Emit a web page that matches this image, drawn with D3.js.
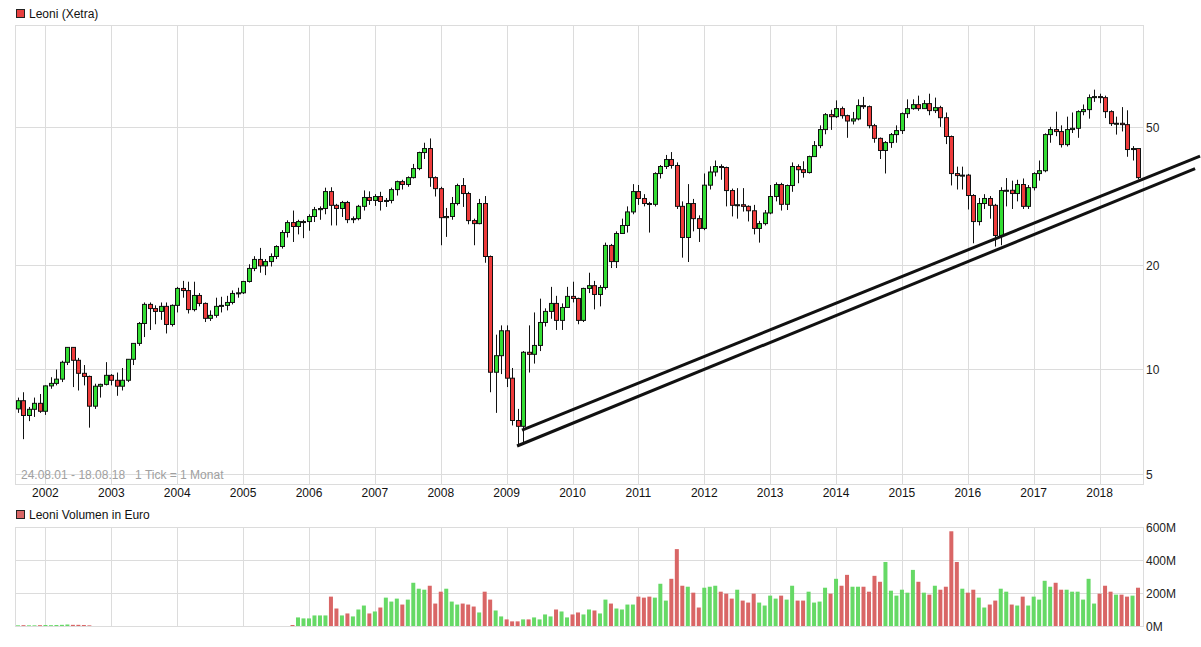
<!DOCTYPE html>
<html><head><meta charset="utf-8">
<script src="https://cdn.jsdelivr.net/npm/d3@7"></script>
<style>body{margin:0;background:#fff}svg{display:block;font-family:"Liberation Sans",Arial,sans-serif}</style>
</head><body><svg id="c" width="1201" height="647"></svg>
<script>
const startLabel = "24.08.01 - 18.08.18   1 Tick = 1 Monat";
const years = [2002,2003,2004,2005,2006,2007,2008,2009,2010,2011,2012,2013,2014,2015,2016,2017,2018];
const priceTicks = [5,10,20,50];
const volTicks = [0,200,400,600];
const firstOpen = 7.70;
const closes = [8.13,7.37,7.68,7.99,7.58,8.97,9.12,9.38,10.49,11.58,10.63,9.75,9.55,7.84,8.95,9.06,9.62,9.31,8.95,9.31,
10.70,11.89,13.57,15.40,14.98,14.70,15.20,13.48,15.30,17.12,16.88,14.88,16.34,15.50,14.04,14.32,15.20,15.30,15.60,16.56,
16.63,17.93,19.55,20.75,19.89,20.46,21.16,22.61,24.81,26.50,25.82,26.68,26.68,27.59,28.87,29.09,32.55,29.71,29.09,30.28,
27.02,27.20,29.51,31.30,30.69,31.50,30.48,30.69,32.98,34.77,34.11,35.71,37.92,42.17,43.30,35.71,33.19,27.38,27.59,30.07,
33.88,32.13,26.85,26.32,30.07,21.16,9.82,10.96,12.93,9.44,7.13,6.86,11.21,11.06,11.73,13.66,14.70,15.50,13.85,15.09,
16.24,16.02,13.85,17.12,17.44,16.45,17.23,22.77,20.46,24.65,25.99,28.44,32.55,31.09,30.07,29.91,36.68,38.44,40.26,38.70,
29.51,24.00,30.07,27.20,25.49,33.96,37.06,38.44,38.18,32.77,29.71,29.83,29.51,28.66,25.49,26.32,28.24,31.50,34.11,29.91,
33.88,38.44,37.63,36.93,41.06,44.16,49.11,54.22,53.50,56.43,53.86,51.98,52.70,57.56,57.18,50.40,46.32,42.74,45.05,47.50,
48.78,54.59,56.43,57.94,56.43,58.33,55.69,56.80,53.14,46.90,36.68,36.19,36.30,31.71,26.68,30.07,31.09,29.71,24.32,32.77,
32.83,32.13,34.11,29.51,33.41,36.68,37.38,47.50,49.11,48.46,44.45,49.11,49.53,55.32,56.06,60.70,61.12,60.70,55.32,51.09,
51.20,50.75,43.02,43.30,35.71];
const highs = [8.3,8.6,7.8,8.3,8.5,9.0,9.5,10.0,10.6,11.6,11.6,10.8,10.3,9.6,9.1,9.1,10.5,9.7,9.8,10.1,
10.7,11.9,13.7,15.6,15.6,15.3,15.6,15.6,15.4,17.3,18.0,17.9,17.9,16.6,15.6,14.8,16.1,16.2,16.3,16.9,
17.2,18.0,20.1,21.2,22.4,20.8,21.6,22.8,25.2,26.9,28.7,27.0,27.0,28.0,29.4,29.5,33.4,33.5,30.0,30.6,
30.6,27.6,29.8,32.8,32.6,32.0,32.5,31.2,33.4,35.0,35.2,36.0,39.1,42.4,45.0,46.3,36.0,33.6,29.2,31.4,
34.3,35.6,32.5,27.2,31.0,31.6,21.3,12.6,13.4,13.4,10.1,7.7,11.3,13.4,14.6,16.0,15.0,17.3,16.3,15.5,
17.3,17.9,16.1,17.2,19.0,18.0,17.5,23.2,23.0,25.0,27.2,29.5,34.2,34.0,32.0,30.4,37.0,38.8,41.5,42.3,
39.5,30.5,34.2,31.0,27.8,36.7,38.5,40.0,39.0,38.4,33.2,33.3,33.3,29.7,29.8,26.8,28.8,34.0,34.6,34.5,
34.1,39.5,39.0,39.8,41.3,45.5,50.5,54.8,56.0,59.6,57.2,54.2,55.2,60.0,61.0,57.6,51.0,46.6,45.5,48.0,
50.5,55.0,60.0,60.0,61.5,59.7,62.3,60.7,57.5,55.0,47.2,38.4,38.4,36.6,32.0,31.2,32.0,31.6,30.0,33.5,
35.6,35.0,35.2,35.5,34.0,37.0,40.0,47.9,50.0,55.3,50.5,53.5,55.0,55.8,58.0,62.0,64.0,62.3,61.5,55.8,
53.5,57.0,55.8,44.0,43.0];
const lows = [7.5,6.3,7.1,7.3,7.5,7.4,8.8,9.0,9.2,10.3,8.9,8.7,9.0,6.8,7.7,8.3,9.0,9.0,8.4,8.7,
9.2,10.3,11.7,12.4,13.0,13.5,13.9,12.7,13.3,14.6,16.1,14.5,14.7,15.2,13.7,13.8,14.1,14.6,14.8,15.4,
16.1,16.5,17.8,19.2,19.0,18.7,19.8,20.8,22.3,24.0,23.3,24.5,23.9,25.1,26.6,27.0,28.0,26.0,26.0,27.5,
26.4,26.4,26.9,28.7,29.8,29.6,28.7,29.4,30.1,31.7,33.0,33.6,35.5,37.5,40.4,33.6,31.5,22.8,24.1,27.0,
29.7,29.4,26.2,22.8,26.2,20.3,8.6,7.5,9.7,8.9,6.9,6.1,6.1,9.8,10.4,11.3,13.3,14.0,13.0,13.0,
15.7,15.6,13.5,13.7,16.6,14.9,15.2,17.0,19.6,19.6,24.7,24.8,28.0,29.8,29.5,24.8,29.5,35.5,37.8,37.9,
29.0,21.0,20.4,25.0,23.3,25.2,33.0,36.0,35.2,29.5,27.6,27.2,28.5,26.7,24.5,23.2,26.0,28.0,30.5,28.7,
28.8,32.5,34.4,35.7,36.7,43.4,43.4,47.6,49.0,53.0,52.8,46.5,50.8,52.2,56.3,49.5,45.0,40.4,36.7,43.5,
45.0,47.7,53.0,56.0,55.6,56.5,54.0,54.8,50.0,44.6,33.9,33.0,33.0,28.9,23.1,26.0,29.0,27.2,22.6,22.8,
29.5,29.0,30.5,29.0,29.0,32.8,35.0,37.0,45.0,47.0,43.6,43.9,48.0,46.5,54.0,52.8,59.0,58.5,53.0,50.3,
47.5,48.5,41.0,40.0,35.3];
const volumes = [4,5,4,4,5,6,5,6,7,9,7,7,6,4,0,0,0,0,0,0,
0,0,0,0,0,0,0,0,0,0,0,0,0,0,0,0,0,0,0,0,
0,0,0,0,0,0,0,0,0,0,6,52,46,46,64,64,64,178,106,64,
76,58,100,124,76,88,112,172,148,166,130,160,262,226,220,244,136,208,226,148,
130,136,130,118,82,208,160,94,58,40,28,28,40,40,52,40,70,58,100,88,
52,70,82,70,100,94,76,160,136,106,100,130,130,178,172,178,172,256,154,286,
466,244,238,202,112,232,238,244,208,196,166,220,154,142,196,142,124,184,166,184,
160,244,154,154,208,142,148,232,196,286,244,310,238,238,238,208,304,268,388,214,
184,220,202,340,268,202,190,244,220,238,574,388,226,202,220,172,112,130,154,226,
208,130,124,178,124,178,160,274,238,262,220,220,208,208,160,286,136,196,244,208,
190,190,178,184,232];
// trend lines: [month index, price]
const trendUpper = [[91.8,6.69],[215.3,41.2]];
const trendLower = [[90.9,6.02],[214.4,37.9]];

const opens = closes.map((c,i)=> i===0 ? firstOpen : closes[i-1]);
const n = closes.length;
const svg = d3.select("#c");
const L=15, R=1143, T=25, B=484, VT=527, VB=626;
const x = d3.scaleLinear().domain([0,204]).range([18,1138]);
const y = d3.scaleLog().domain([5,80]).range([474,474-104.5*4]);
const yv = d3.scaleLinear().domain([0,600]).range([VB,VT]);
const grid="#dcdcdc";

function panel(top,bot){
  svg.append("rect").attr("x",L+0.5).attr("y",top+0.5).attr("width",R-L).attr("height",bot-top)
    .attr("fill","none").attr("stroke",grid);
  years.forEach(yr=>{const gx=Math.round(x((yr-2001)*12-7))+0.5;
    svg.append("line").attr("x1",gx).attr("x2",gx).attr("y1",top).attr("y2",bot).attr("stroke",grid);});
}
panel(T,B); panel(VT,VB);
priceTicks.forEach(t=>{const gy=Math.round(y(t))+0.5;
  svg.append("line").attr("x1",L).attr("x2",R).attr("y1",gy).attr("y2",gy).attr("stroke",grid);
  svg.append("text").attr("x",R+3).attr("y",gy+4).attr("font-size",12).attr("fill","#222").text(t);});
volTicks.forEach(t=>{const gy=Math.round(yv(t))+0.5;
  svg.append("line").attr("x1",L).attr("x2",R).attr("y1",gy).attr("y2",gy).attr("stroke",grid);
  svg.append("text").attr("x",R+3).attr("y",gy+4).attr("font-size",12).attr("fill","#222").text(t+"M");});
years.forEach(yr=>{svg.append("text").attr("x",x((yr-2001)*12-7)).attr("y",497).attr("text-anchor","middle")
  .attr("font-size",12).attr("fill","#111").text(yr);});

svg.append("text").attr("x",21).attr("y",479).attr("font-size",12).attr("fill","#a0a0a0").attr("xml:space","preserve").text(startLabel);
svg.append("rect").attr("x",16.5).attr("y",9.5).attr("width",8).attr("height",8).attr("fill","#e84040").attr("stroke","#222");
svg.append("text").attr("x",29).attr("y",18).attr("font-size",12).attr("fill","#111").text("Leoni (Xetra)");
svg.append("rect").attr("x",16.5).attr("y",510.5).attr("width",8).attr("height",8).attr("fill","#d96666").attr("stroke","#222");
svg.append("text").attr("x",29).attr("y",519).attr("font-size",12).attr("fill","#111").text("Leoni Volumen in Euro");

const idx = d3.range(n);
// volume
svg.append("g").selectAll("rect").data(idx.filter(i=>volumes[i]>0)).join("rect")
  .attr("x",i=>x(i)-2).attr("width",4).attr("y",i=>yv(volumes[i])).attr("height",i=>VB-yv(volumes[i]))
  .attr("fill",i=>closes[i]>=opens[i]?"#66d966":"#d96666");
// candles
const g = svg.append("g");
g.selectAll("line").data(idx).join("line")
  .attr("x1",i=>Math.round(x(i))+0.5).attr("x2",i=>Math.round(x(i))+0.5)
  .attr("y1",i=>y(highs[i])).attr("y2",i=>y(lows[i])).attr("stroke","#111").attr("stroke-width",1);
g.selectAll("rect").data(idx).join("rect")
  .attr("x",i=>Math.round(x(i))-1.5).attr("width",4)
  .attr("y",i=>y(Math.max(opens[i],closes[i])))
  .attr("height",i=>Math.max(1,y(Math.min(opens[i],closes[i]))-y(Math.max(opens[i],closes[i]))))
  .attr("fill",i=>closes[i]>=opens[i]?"#33dd33":"#ee3b3b").attr("stroke","#111").attr("stroke-width",1);
// trend lines
const line = d3.line().x(d=>x(d[0])).y(d=>y(d[1]));
[trendUpper,trendLower].forEach(t=>svg.append("path").attr("d",line(t)).attr("stroke","#111").attr("stroke-width",3).attr("fill","none"));
</script></body></html>
